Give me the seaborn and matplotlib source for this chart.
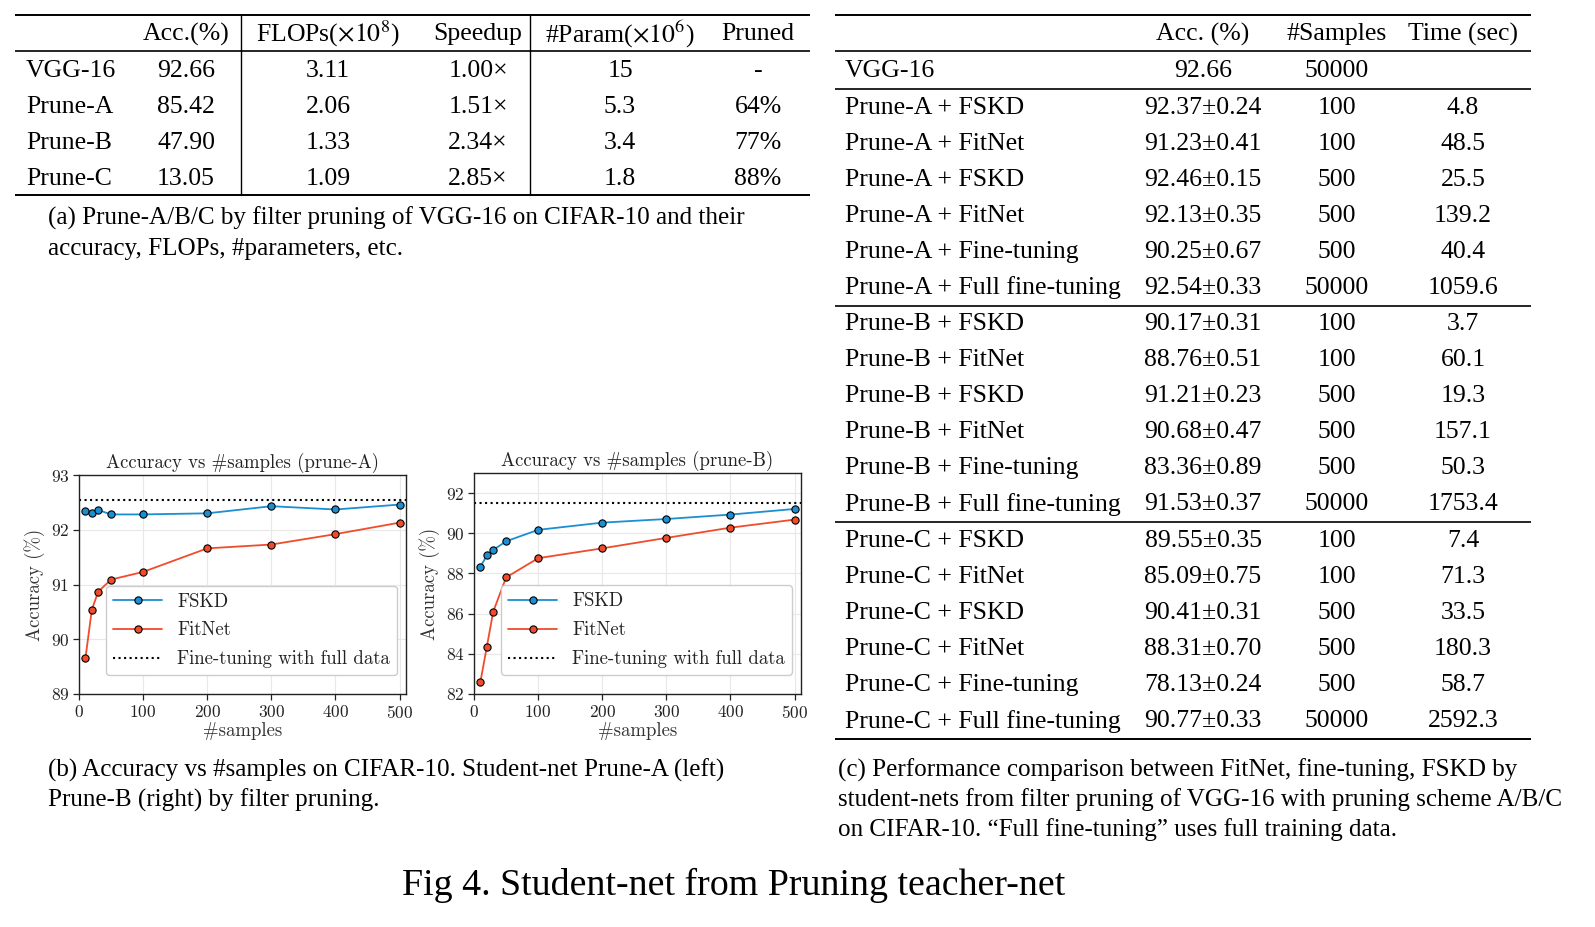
import matplotlib
matplotlib.use("Agg")
import pandas as pd
import matplotlib.pyplot as plt
import seaborn as sns

# =====================================
# Data
# =====================================

samples = [10, 20, 30, 50, 100, 200, 300, 400, 500]

fskd_a = [92.35, 92.31, 92.36, 92.28, 92.28, 92.30, 92.43, 92.37, 92.46]
fitnet_a = [89.65, 90.54, 90.87, 91.09, 91.23, 91.66, 91.73, 91.92, 92.13]
full_a = 92.54

fskd_b = [88.33, 88.90, 89.17, 89.60, 90.17, 90.53, 90.71, 90.93, 91.21]
fitnet_b = [82.60, 84.35, 86.10, 87.80, 88.76, 89.25, 89.77, 90.28, 90.68]
full_b = 91.53

# table (a)
header_a = ["", "Acc.(%)", r"FLOPs($\times10^8$)", "Speedup",
            r"#Param($\times10^6$)", "Pruned"]
models_a = ["VGG-16", "Prune-A", "Prune-B", "Prune-C"]
acc_a = ["92.66", "85.42", "47.90", "13.05"]
flops_a = ["3.11", "2.06", "1.33", "1.09"]
speedup_a = ["1.00×", "1.51×", "2.34×", "2.85×"]
params_a = ["15", "5.3", "3.4", "1.8"]
pruned_a = ["-", "64%", "77%", "88%"]

# table (c)
header_c = ["", "Acc. (%)", "#Samples", "Time (sec)"]
methods = ["FSKD", "FitNet", "FSKD", "FitNet", "Fine-tuning", "Full fine-tuning"]
acc_c = {
    "A": ["92.37±0.24", "91.23±0.41", "92.46±0.15", "92.13±0.35", "90.25±0.67", "92.54±0.33"],
    "B": ["90.17±0.31", "88.76±0.51", "91.21±0.23", "90.68±0.47", "83.36±0.89", "91.53±0.37"],
    "C": ["89.55±0.35", "85.09±0.75", "90.41±0.31", "88.31±0.70", "78.13±0.24", "90.77±0.33"],
}
samples_c = ["100", "100", "500", "500", "500", "50000"]
time_c = {
    "A": ["4.8", "48.5", "25.5", "139.2", "40.4", "1059.6"],
    "B": ["3.7", "60.1", "19.3", "157.1", "50.3", "1753.4"],
    "C": ["7.4", "71.3", "33.5", "180.3", "58.7", "2592.3"],
}

# =====================================
# Style
# =====================================

sns.set_theme(style="whitegrid")
plt.rcParams["font.family"] = ["Liberation Serif", "DejaVu Serif"]
plt.rcParams["mathtext.fontset"] = "cm"
plt.rcParams["axes.formatter.use_mathtext"] = True

W, H = 1595, 927
fig = plt.figure(figsize=(W / 100, H / 100), dpi=100)

# pixel overlay for the tables and captions
pix = fig.add_axes([0, 0, 1, 1], zorder=-1)
pix.set_xlim(0, W)
pix.set_ylim(H, 0)
pix.axis("off")

TFS = 18.5
CFS = 18.1


def txt(x, y, s, ha="center", size=TFS):
    pix.text(x, y, s, ha=ha, va="center", fontsize=size,
             family="Liberation Serif", math_fontfamily="stix", color="black")


def rule(y, x0, x1, lw=1.2):
    pix.plot([x0, x1], [y, y], color="black", lw=lw, solid_capstyle="butt")


# =====================================
# Table (a)
# =====================================

cols_a = [26, 186, 328, 478, 620, 758]
rule(15, 15, 810, 1.4)
rule(51, 15, 810)
rule(195, 15, 810, 1.4)
for xv in (241, 530):
    pix.plot([xv, xv], [15, 195], color="black", lw=1.0)

for j, h in enumerate(header_a):
    txt(cols_a[j], 34, h)

for i, m in enumerate(models_a):
    y = 71 + 36 * i
    txt(cols_a[0], y, m, ha="left")
    txt(cols_a[1], y, acc_a[i])
    txt(cols_a[2], y, flops_a[i])
    txt(cols_a[3], y, speedup_a[i])
    txt(cols_a[4], y, params_a[i])
    txt(cols_a[5], y, pruned_a[i])

txt(48, 218, "(a) Prune-A/B/C by filter pruning of VGG-16 on CIFAR-10 and their", ha="left", size=CFS)
txt(48, 249, "accuracy, FLOPs, #parameters, etc.", ha="left", size=CFS)

# =====================================
# Table (c)
# =====================================

cols_c = [845, 1203, 1337, 1463]
x0c, x1c = 835, 1531
rule(15, x0c, x1c, 1.4)
rule(51, x0c, x1c)
rule(89, x0c, x1c)
for j, h in enumerate(header_c):
    txt(cols_c[j], 34, h)
txt(cols_c[0], 71, "VGG-16", ha="left")
txt(cols_c[1], 71, "92.66")
txt(cols_c[2], 71, "50000")

pitch = 36.0
gap = 36.8
start = 107.5
for g, key in enumerate(["A", "B", "C"]):
    y0 = start + g * (5 * pitch + gap)
    for i, meth in enumerate(methods):
        y = y0 + i * pitch
        txt(cols_c[0], y, f"Prune-{key} + {meth}", ha="left")
        txt(cols_c[1], y, acc_c[key][i])
        txt(cols_c[2], y, samples_c[i])
        txt(cols_c[3], y, time_c[key][i])
    rule(y0 + 5 * pitch + 18, x0c, x1c, 1.4 if g == 2 else 1.2)

txt(838, 770, "(c) Performance comparison between FitNet, fine-tuning, FSKD by", ha="left", size=CFS)
txt(838, 800, "student-nets from filter pruning of VGG-16 with pruning scheme A/B/C", ha="left", size=CFS)
txt(838, 830, "on CIFAR-10. \u201cFull fine-tuning\u201d uses full training data.", ha="left", size=CFS)

txt(48, 770, "(b) Accuracy vs #samples on CIFAR-10. Student-net Prune-A (left)", ha="left", size=CFS)
txt(48, 800, "Prune-B (right) by filter pruning.", ha="left", size=CFS)

txt(734, 885, "Fig 4. Student-net from Pruning teacher-net", size=27.3)

# =====================================
# Line plots (b)
# =====================================

BLUE = "#1b8fd2"
RED = "#f04c2c"
PFONT = "cmr10"


def plot_panel(box, fskd, fitnet, full, ylim, yticks, title):
    l, t, r, b = box
    ax = fig.add_axes([l / W, 1 - b / H, (r - l) / W, (b - t) / H])
    df = pd.DataFrame({"samples": samples, "FSKD": fskd, "FitNet": fitnet})
    sns.lineplot(data=df, x="samples", y="FSKD", ax=ax, color=BLUE, lw=1.3,
                 marker="o", markersize=5.2, markeredgecolor="black",
                 markeredgewidth=0.8, label="FSKD")
    sns.lineplot(data=df, x="samples", y="FitNet", ax=ax, color=RED, lw=1.3,
                 marker="o", markersize=5.2, markeredgecolor="black",
                 markeredgewidth=0.8, label="FitNet")
    ax.axhline(full, color="black", ls=":", lw=1.5,
               label="Fine-tuning with full data")
    ax.set_xlim(0, 510)
    ax.set_ylim(*ylim)
    ax.set_xticks([0, 100, 200, 300, 400, 500])
    ax.set_yticks(yticks)
    ax.grid(True, color="#e8e8e8", lw=0.8)
    ax.set_facecolor("white")
    for s in ax.spines.values():
        s.set_color("#222222")
        s.set_linewidth(1.0)
    ax.tick_params(axis="both", direction="out", length=4, width=0.9,
                   color="#222222", labelsize=12.5, labelcolor="#222222",
                   bottom=True, left=True, pad=3)
    for lab in ax.get_xticklabels() + ax.get_yticklabels():
        lab.set_family(PFONT)
    ax.set_title(title, family=PFONT, fontsize=13.5, color="#222222", pad=5)
    ax.set_xlabel("#samples", family=PFONT, fontsize=13.5, color="#333333", labelpad=1)
    ax.set_ylabel("Accuracy (%)", family=PFONT, fontsize=13.5, color="#333333", labelpad=4)
    leg = ax.legend(loc="lower right", bbox_to_anchor=(0.972, 0.085),
                    prop={"family": PFONT, "size": 13.5},
                    frameon=True, fancybox=True, framealpha=1,
                    edgecolor="#cccccc", borderpad=0.38, handlelength=2.6,
                    labelspacing=0.58, borderaxespad=0)
    for tx in leg.get_texts():
        tx.set_color("#222222")
    return ax


plot_panel((79, 475, 406, 694), fskd_a, fitnet_a, full_a, (89, 93),
           [89, 90, 91, 92, 93], "Accuracy vs #samples (prune-A)")
plot_panel((474, 473, 801, 694), fskd_b, fitnet_b, full_b, (82, 93),
           [82, 84, 86, 88, 90, 92], "Accuracy vs #samples (prune-B)")

fig.savefig("out.png", dpi=100)
